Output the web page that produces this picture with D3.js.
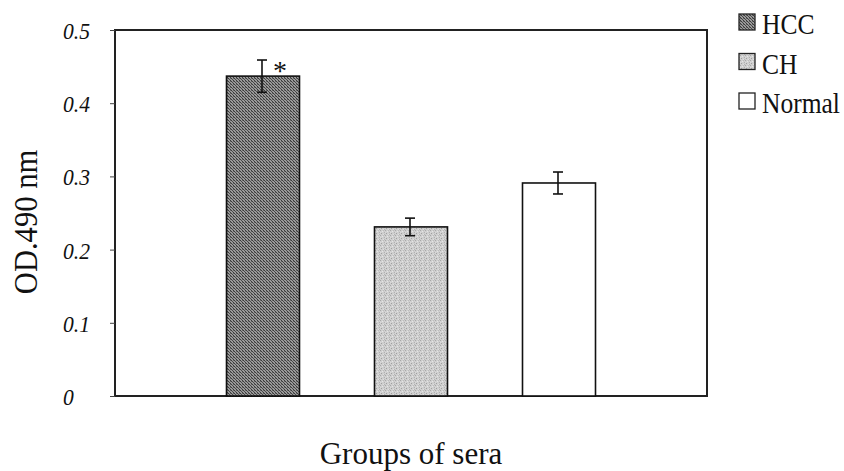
<!DOCTYPE html>
<html>
<head>
<meta charset="utf-8">
<script src="https://cdn.jsdelivr.net/npm/d3@7"></script>
<style>
  html, body { margin: 0; padding: 0; background: #fff; }
  svg { display: block; }
  text { font-family: "Liberation Serif", "Times New Roman", serif; fill: #111; }
</style>
</head>
<body>
<svg id="chart" width="844" height="471"></svg>
<script>
// ---- data ----
const categories = ["HCC", "CH", "Normal"];
const values = [0.437, 0.231, 0.291];
const errors = [0.022, 0.012, 0.015];
const significance = ["*", "", ""];
const yTicks = [0, 0.1, 0.2, 0.3, 0.4, 0.5];
const yTickLabels = ["0", "0.1", "0.2", "0.3", "0.4", "0.5"];
const yTitle = "OD.490 nm";
const xTitle = "Groups of sera";

// ---- layout ----
const svg = d3.select("#chart");
const mLeft = 115, mRight = 707, mTop = 30, mBottom = 396;

const defs = svg.append("defs");
// dark crosshatch for HCC
const p1 = defs.append("pattern").attr("id", "patHCC")
  .attr("patternUnits", "userSpaceOnUse").attr("width", 3).attr("height", 3);
p1.append("rect").attr("width", 3).attr("height", 3).attr("fill", "#9a9a9a");
p1.append("rect").attr("x", 0).attr("y", 0).attr("width", 1).attr("height", 1).attr("fill", "#3a3a3a");
p1.append("rect").attr("x", 1).attr("y", 1).attr("width", 1).attr("height", 1).attr("fill", "#4a4a4a");
p1.append("rect").attr("x", 2).attr("y", 2).attr("width", 1).attr("height", 1).attr("fill", "#3a3a3a");
p1.append("rect").attr("x", 2).attr("y", 0).attr("width", 1).attr("height", 1).attr("fill", "#6a6a6a");
// light stipple for CH
const p2 = defs.append("pattern").attr("id", "patCH")
  .attr("patternUnits", "userSpaceOnUse").attr("width", 5).attr("height", 5);
p2.append("rect").attr("width", 5).attr("height", 5).attr("fill", "#cfcfcf");
[[0,0,"#a8a8a8"],[2,1,"#e6e6e6"],[4,2,"#b0b0b0"],[1,3,"#a0a0a0"],[3,4,"#e0e0e0"],[3,0,"#bcbcbc"],[0,2,"#dadada"],[4,4,"#b4b4b4"]]
  .forEach(([px, py, c]) => p2.append("rect").attr("x", px).attr("y", py).attr("width", 1).attr("height", 1).attr("fill", c));

const fills = ["url(#patHCC)", "url(#patCH)", "#ffffff"];

const x = d3.scalePoint().domain(categories).range([mLeft, mRight]).padding(1);
const barW = 73;
const y = d3.scaleLinear().domain([0, 0.5]).range([mBottom, mTop]);

// frame
svg.append("rect").attr("x", mLeft).attr("y", mTop)
  .attr("width", mRight - mLeft).attr("height", mBottom - mTop)
  .attr("fill", "none").attr("stroke", "#222").attr("stroke-width", 2);

// y axis ticks
const yAxis = d3.axisLeft(y).tickValues(yTicks).tickSize(5).tickFormat("");
const gy = svg.append("g").attr("transform", `translate(${mLeft},0)`).call(yAxis);
gy.select(".domain").remove();
gy.selectAll(".tick line").attr("stroke", "#444").attr("stroke-width", 1);

// y tick labels (left aligned, narrow italic)
svg.append("g").selectAll("text").data(yTicks).join("text")
  .attr("transform", d => `translate(63,${y(d) + 9}) scale(0.9,1)`)
  .attr("font-size", 24).attr("font-style", "italic")
  .text((d, i) => yTickLabels[i]);

// bars
svg.append("g").selectAll("rect").data(categories).join("rect")
  .attr("x", d => x(d) - barW / 2)
  .attr("y", (d, i) => y(values[i]))
  .attr("width", barW)
  .attr("height", (d, i) => y(0) - y(values[i]))
  .attr("fill", (d, i) => fills[i])
  .attr("stroke", "#111").attr("stroke-width", 1.6);

// error bars
const eb = svg.append("g").attr("stroke", "#111").attr("stroke-width", 1.6);
categories.forEach((c, i) => {
  const cx = x(c) - 1;
  const y1 = y(values[i] + errors[i]), y2 = y(values[i] - errors[i]);
  eb.append("line").attr("x1", cx).attr("x2", cx).attr("y1", y1).attr("y2", y2);
  eb.append("line").attr("x1", cx - 5).attr("x2", cx + 5).attr("y1", y1).attr("y2", y1);
  eb.append("line").attr("x1", cx - 5).attr("x2", cx + 5).attr("y1", y2).attr("y2", y2);
  if (significance[i]) {
    svg.append("text").attr("x", cx + 11).attr("y", y1 + 20)
      .attr("font-size", 28).text(significance[i]);
  }
});

// axis titles
svg.append("text")
  .attr("transform", `translate(37,${(mTop + mBottom) / 2 + 9}) rotate(-90) scale(0.9,1)`)
  .attr("text-anchor", "middle").attr("font-size", 34).text(yTitle);
svg.append("text").attr("x", 411).attr("y", 464)
  .attr("text-anchor", "middle").attr("font-size", 31).text(xTitle);

// legend
const lg = svg.append("g");
categories.forEach((c, i) => {
  const ly = 14 + i * 39.5;
  lg.append("rect").attr("x", 739).attr("y", ly).attr("width", 16).attr("height", 16)
    .attr("fill", fills[i]).attr("stroke", "#222").attr("stroke-width", 1.3);
  lg.append("text").attr("transform", `translate(762,${ly + 20}) scale(0.88,1)`)
    .attr("font-size", 29).text(c);
});
</script>
</body>
</html>
